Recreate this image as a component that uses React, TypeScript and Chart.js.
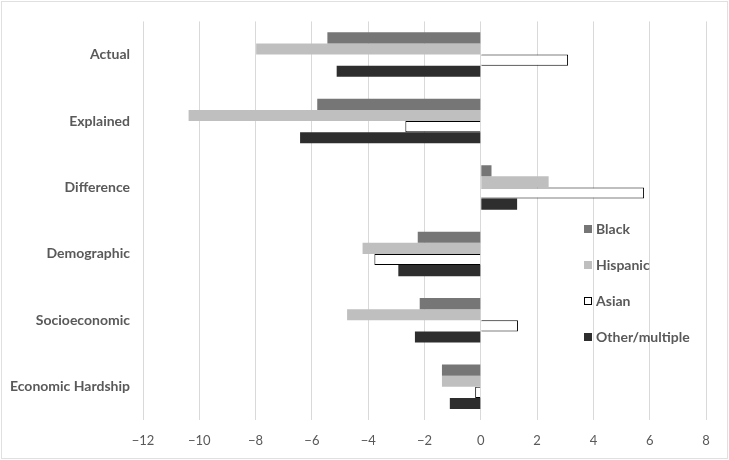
import React, { useEffect, useRef } from "react";
import { Chart, registerables } from "chart.js";

Chart.register(...registerables);

const categories = ["Actual", "Explained", "Difference", "Demographic", "Socioeconomic", "Economic Hardship"];
const seriesNames = ["Black", "Hispanic", "Asian", "Other/multiple"];
const black = [-5.45, -5.81, 0.38, -2.24, -2.17, -1.38];
const hispanic = [-7.98, -10.38, 2.41, -4.2, -4.75, -1.38];
const asian = [3.1, -2.68, 5.8, -3.78, 1.32, -0.2];
const other = [-5.12, -6.42, 1.29, -2.93, -2.34, -1.1];
const xTicks = [-12, -10, -8, -6, -4, -2, 0, 2, 4, 6, 8];

const FONT = "Lato, 'Open Sans', sans-serif";
const TEXT = "#595959";

const decorPlugin = {
  id: "decor",
  beforeDraw(chart: any) {
    const { ctx, width, height } = chart;
    ctx.save();
    ctx.fillStyle = "#ffffff";
    ctx.fillRect(0, 0, width, height);
    ctx.restore();
  },
  afterDraw(chart: any) {
    const { ctx, width, height } = chart;
    ctx.save();
    ctx.strokeStyle = "#e0e0e0";
    ctx.lineWidth = 1;
    ctx.strokeRect(1.5, 1.5, width - 3, height - 3);
    // legend
    const ds = chart.data.datasets;
    const x0 = 584;
    const yStart = 229;
    const step = 36;
    ctx.font = "bold 14px " + FONT;
    ctx.textBaseline = "middle";
    ctx.textAlign = "left";
    ds.forEach((d: any, i: number) => {
      const y = yStart + i * step;
      ctx.fillStyle = d.backgroundColor;
      ctx.fillRect(x0, y - 4, 8, 8);
      if (d.borderWidth) {
        ctx.strokeStyle = d.borderColor;
        ctx.lineWidth = 1;
        ctx.strokeRect(x0 + 0.5, y - 3.5, 7, 7);
      }
      ctx.fillStyle = TEXT;
      ctx.fillText(d.label, x0 + 12, y);
    });
    ctx.restore();
  },
};

export default function App() {
  const ref = useRef<HTMLCanvasElement>(null);
  useEffect(() => {
    if (!ref.current) return;
    const colors = ["#767676", "#bfbfbf", "#ffffff", "#2e2e2e"];
    const values = [black, hispanic, asian, other];
    const chart = new Chart(ref.current, {
      type: "bar",
      data: {
        labels: categories,
        datasets: seriesNames.map((name, i) => ({
          label: name,
          data: values[i],
          backgroundColor: colors[i],
          borderColor: i === 2 ? "#000000" : colors[i],
          borderWidth: i === 2 ? 1 : 0,
          categoryPercentage: 0.67,
          barPercentage: 1,
        })),
      },
      options: {
        indexAxis: "y",
        responsive: false,
        animation: false,
        layout: { padding: { top: 17, right: 23, left: 0, bottom: 0 } },
        plugins: { legend: { display: false }, tooltip: { enabled: false } },
        scales: {
          x: {
            min: -12,
            max: 8,
            afterBuildTicks: (scale: any) => {
              scale.ticks = xTicks.map((v) => ({ value: v }));
            },
            afterFit: (scale: any) => {
              scale.height = 40;
            },
            grid: { color: "#d9d9d9", drawTicks: false, lineWidth: 1 },
            border: { display: false },
            ticks: {
              padding: 13,
              color: TEXT,
              font: { family: FONT, size: 13 },
              callback: (v: any) => (Number(v) < 0 ? "\u2212" + Math.abs(Number(v)) : String(v)),
            },
          },
          y: {
            afterFit: (scale: any) => {
              scale.width = 143;
            },
            grid: { display: false, drawTicks: false },
            border: { display: false },
            ticks: {
              padding: 13,
              color: TEXT,
              font: { family: FONT, size: 14, weight: "bold" },
            },
          },
        },
      },
      plugins: [decorPlugin],
    });
    return () => chart.destroy();
  }, []);
  return (
    <div style={{ position: "absolute", left: 0, top: 0, width: 729, height: 460 }}>
      <canvas ref={ref} width={729} height={460} style={{ width: 729, height: 460 }} />
    </div>
  );
}
